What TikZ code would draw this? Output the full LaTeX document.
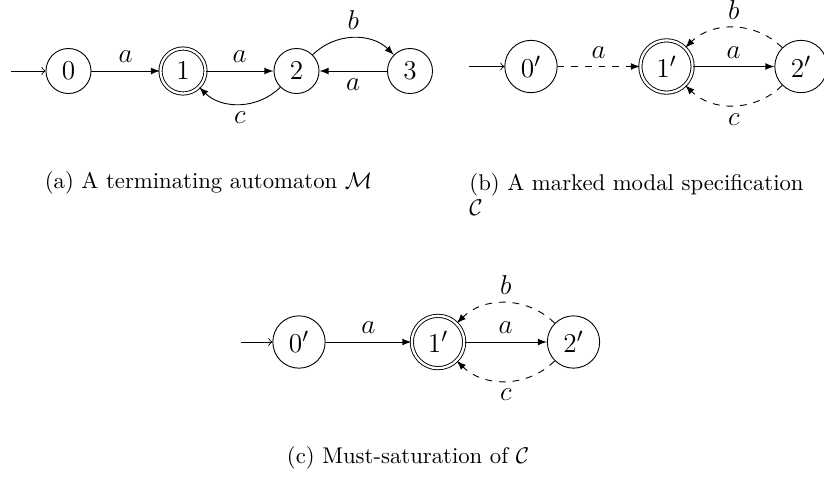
\documentclass[tikz,border=0pt]{standalone}
\usetikzlibrary{arrows}
\begin{document}
\begin{tikzpicture}[x=0.44pt, y=0.44pt,
        st/.style={circle, draw, inner sep=3.6pt, font=\fontsize{13}{15}\selectfont},
        acc/.style={st, double, double distance=1pt},
        edge/.style={-latex},
        may/.style={-latex, dashed},
        lbl/.style={font=\fontsize{12}{14}\selectfont},
        captxt/.style={inner sep=0pt, anchor=base}]
        \useasboundingbox (0,0) rectangle (824,478);
        % (a) terminating automaton
        \coordinate (ai) at (11,407);
        \node[st] (a0) at (68.5,407) {$0$};
        \node[acc] (a1) at (183,407) {$1$};
        \node[st] (a2) at (296.5,407) {$2$};
        \node[st] (a3) at (410,407) {$3$};
        \draw[->] (ai) -- (a0);
        \draw[edge] (a0) -- node[lbl, above] (la01) {$a$} (a1);
        \draw[edge] (a1) -- node[lbl, above] (la12) {$a$} (a2);
        \draw[edge] (a2) to[bend left=45] node[lbl, above] (la23) {$b$} (a3);
        \draw[edge] (a3) -- node[lbl, below] (la32) {$a$} (a2);
        \draw[edge] (a2) to[bend left=45] node[lbl, below] (la21) {$c$} (a1);
        \node[captxt] (capa) at (208.5,289.3) {(a) A terminating automaton $\mathcal{M}$};
        % (b) marked modal specification
        \coordinate (bi) at (469,411.5);
        \node[st] (b0) at (531,411.5) {$0'$};
        \node[acc] (b1) at (666.5,411.5) {$1'$};
        \node[st] (b2) at (801,411.5) {$2'$};
        \draw[->] (bi) -- (b0);
        \draw[may] (b0) -- node[lbl, above] (lb01) {$a$} (b1);
        \draw[edge] (b1) -- node[lbl, above] (lb12) {$a$} (b2);
        \draw[may] (b2) to[bend right=45] node[lbl, above] (lb21t) {$b$} (b1);
        \draw[may] (b2) to[bend left=45] node[lbl, below] (lb21b) {$c$} (b1);
        \node[captxt, anchor=base west, align=left] (capb) at (469,263)
            {(b) A marked modal specification\\[-1pt]$\mathcal{C}$};
        % (c) must-saturation
        \coordinate (ci) at (240.5,136);
        \node[st] (c0) at (299,136) {$0'$};
        \node[acc] (c1) at (438,136) {$1'$};
        \node[st] (c2) at (573.5,136) {$2'$};
        \draw[->] (ci) -- (c0);
        \draw[edge] (c0) -- node[lbl, above] (lc01) {$a$} (c1);
        \draw[edge] (c1) -- node[lbl, above] (lc12) {$a$} (c2);
        \draw[may] (c2) to[bend right=45] node[lbl, above] (lc21t) {$b$} (c1);
        \draw[may] (c2) to[bend left=45] node[lbl, below] (lc21b) {$c$} (c1);
        \node[captxt] (capc) at (408,14.3) {(c) Must-saturation of $\mathcal{C}$};
    \end{tikzpicture}
\end{document}
